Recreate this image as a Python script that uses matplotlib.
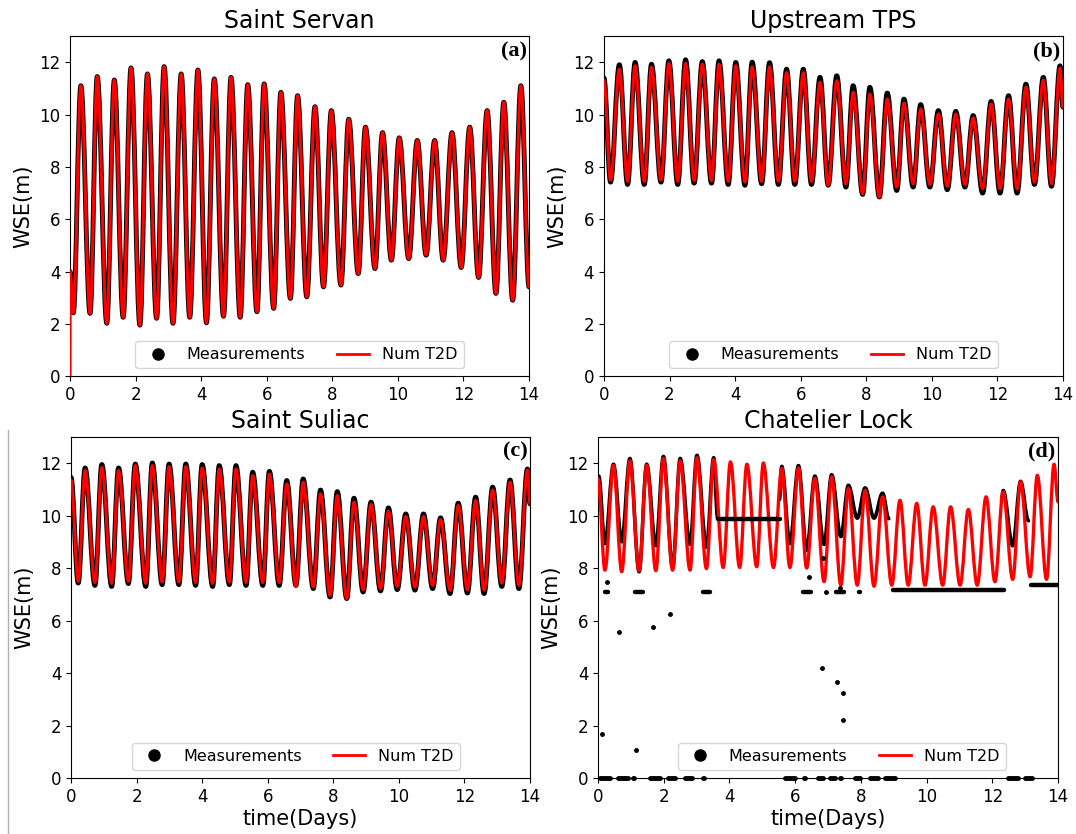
import matplotlib
matplotlib.use("Agg")
import matplotlib.pyplot as plt
from matplotlib.path import Path
from matplotlib.patches import PathPatch
from matplotlib.lines import Line2D

# ---- (a) Saint Servan : high / low water ----
a_hw_t = [0.33, 0.83, 1.35, 1.86, 2.36, 2.87, 3.39, 3.90, 4.40, 4.91, 5.42, 5.92, 6.43, 6.94,
          7.47, 7.97, 8.50, 9.01, 9.53, 10.04, 10.59, 11.12, 11.65, 12.19, 12.72, 13.23, 13.75]
a_hw = [11.10, 11.45, 11.32, 11.78, 11.55, 11.83, 11.55, 11.70, 11.36, 11.42, 11.14, 11.17, 10.85, 10.72,
        10.30, 10.15, 9.82, 9.52, 9.31, 9.11, 9.01, 9.01, 9.31, 9.52, 10.15, 10.47, 11.10]
a_lw_t = [0.10, 0.61, 1.12, 1.62, 2.13, 2.64, 3.14, 3.65, 4.16, 4.68, 5.19, 5.70, 6.21, 6.72,
          7.22, 7.73, 8.26, 8.79, 9.30, 9.80, 10.33, 10.86, 11.38, 11.93, 12.46, 12.99, 13.50]
a_lw = [2.43, 2.41, 2.03, 2.26, 1.96, 2.22, 2.03, 2.26, 2.05, 2.30, 2.26, 2.47, 2.60, 2.98,
        3.04, 3.42, 3.49, 3.93, 4.12, 4.44, 4.50, 4.63, 4.44, 4.16, 3.78, 3.17, 2.91]
a_start_obs = [(0.0, 4.0)]
a_start_mod = [(0.0, 0.0), (0.002, 4.0)]
a_end = (14.0, 3.42)

# ---- (b) Upstream TPS ----
b_hw_t = [0.47, 0.95, 1.45, 1.98, 2.49, 3.00, 3.51, 4.02, 4.52, 5.05, 5.57, 6.08, 6.59, 7.10,
          7.60, 8.11, 8.64, 9.15, 9.66, 10.20, 10.73, 11.26, 11.81, 12.34, 12.87, 13.40, 13.91]
b_hw_obs = [11.90, 11.99, 11.92, 12.05, 12.09, 12.02, 12.05, 11.99, 12.00, 11.98, 11.73, 11.73, 11.42, 11.48,
            11.10, 11.04, 10.82, 10.59, 10.38, 10.15, 10.12, 9.96, 10.50, 10.72, 11.16, 11.42, 11.86]
b_hw_mod = [11.73, 11.86, 11.80, 11.95, 11.95, 11.92, 11.92, 11.86, 11.82, 11.82, 11.60, 11.60, 11.23, 11.29,
            10.85, 10.78, 10.59, 10.43, 10.21, 10.02, 10.02, 9.87, 10.40, 10.59, 11.04, 11.31, 11.77]
b_lw_t = [0.20, 0.72, 1.23, 1.74, 2.25, 2.75, 3.28, 3.79, 4.30, 4.81, 5.32, 5.82, 6.33, 6.84,
          7.38, 7.89, 8.40, 8.93, 9.43, 9.94, 10.47, 11.01, 11.55, 12.08, 12.60, 13.13, 13.65]
b_lw_obs = [7.42, 7.33, 7.33, 7.42, 7.33, 7.38, 7.38, 7.33, 7.30, 7.36, 7.33, 7.33, 7.33, 7.30,
            7.23, 6.95, 6.85, 7.10, 7.23, 7.23, 7.13, 7.23, 7.00, 7.00, 7.00, 7.33, 7.26]
b_lw_mod = [7.50, 7.45, 7.45, 7.50, 7.45, 7.48, 7.48, 7.45, 7.42, 7.45, 7.45, 7.45, 7.45, 7.30,
            7.36, 6.98, 6.85, 7.23, 7.36, 7.33, 7.26, 7.33, 7.17, 7.17, 7.17, 7.42, 7.36]
b_start_obs = [(0.0, 11.40)]
b_start_mod = [(0.0, 11.30)]
b_end = (14.0, 10.28)

# ---- (c) Saint Suliac ----
c_hw_t = [0.43, 0.94, 1.45, 1.96, 2.48, 2.99, 3.50, 4.00, 4.52, 5.03, 5.54, 6.05, 6.58, 7.08,
          7.61, 8.12, 8.63, 9.15, 9.68, 10.21, 10.75, 11.27, 11.81, 12.34, 12.86, 13.39, 13.92]
c_hw_obs = [11.81, 11.94, 11.81, 11.96, 12.00, 11.96, 11.96, 11.94, 11.90, 11.90, 11.65, 11.68, 11.33, 11.39,
            10.97, 10.91, 10.66, 10.51, 10.29, 10.06, 10.06, 9.91, 10.47, 10.70, 11.08, 11.35, 11.77]
c_hw_mod = [11.71, 11.83, 11.71, 11.90, 11.90, 11.86, 11.86, 11.81, 11.77, 11.77, 11.52, 11.58, 11.20, 11.27,
            10.82, 10.76, 10.51, 10.42, 10.16, 9.96, 9.96, 9.84, 10.38, 10.57, 10.97, 11.27, 11.73]
c_lw_t = [0.22, 0.73, 1.24, 1.75, 2.28, 2.78, 3.29, 3.80, 4.32, 4.83, 5.34, 5.85, 6.35, 6.86,
          7.39, 7.90, 8.41, 8.91, 9.44, 9.95, 10.49, 11.03, 11.56, 12.09, 12.60, 13.14, 13.66]
c_lw_obs = [7.43, 7.34, 7.30, 7.41, 7.30, 7.37, 7.37, 7.34, 7.30, 7.37, 7.34, 7.34, 7.34, 7.34,
            7.22, 6.90, 6.84, 7.09, 7.13, 7.18, 7.16, 7.22, 7.03, 7.05, 7.03, 7.30, 7.22]
c_lw_mod = [7.50, 7.45, 7.42, 7.50, 7.42, 7.47, 7.47, 7.45, 7.42, 7.47, 7.45, 7.45, 7.45, 7.30,
            7.28, 6.96, 6.84, 7.18, 7.22, 7.30, 7.28, 7.34, 7.16, 7.18, 7.16, 7.43, 7.34]
c_start_obs = [(0.0, 11.45)]
c_start_mod = [(0.0, 11.35)]
c_end = (14.0, 10.44)

# ---- (d) Chatelier Lock : model ----
d_hw_t = [0.47, 0.97, 1.48, 1.99, 2.50, 3.01, 3.52, 4.03, 4.53, 5.03, 5.59, 6.10, 6.60, 7.11,
          7.62, 8.13, 8.66, 9.19, 9.70, 10.20, 10.73, 11.27, 11.81, 12.33, 12.86, 13.37, 13.88]
d_hw_mod = [11.91, 12.08, 11.91, 12.17, 12.08, 12.20, 12.13, 12.04, 11.95, 12.00, 11.79, 11.81, 11.41, 11.47,
            11.03, 10.96, 10.71, 10.58, 10.46, 10.33, 10.33, 10.23, 10.71, 10.90, 11.28, 11.53, 11.95]
d_lw_t = [0.21, 0.72, 1.25, 1.76, 2.27, 2.80, 3.30, 3.81, 4.31, 4.83, 5.34, 5.84, 6.35, 6.88,
          7.39, 7.89, 8.40, 8.94, 9.44, 9.95, 10.49, 11.02, 11.54, 12.08, 12.62, 13.15, 13.65]
d_lw_mod = [7.92, 7.86, 7.90, 7.90, 7.92, 7.92, 7.98, 8.02, 8.02, 8.05, 8.02, 8.02, 8.00, 7.48,
            7.35, 7.35, 7.31, 7.35, 7.35, 7.35, 7.35, 7.35, 7.35, 7.48, 7.57, 7.67, 7.57]
d_start_mod = [(0.0, 11.40)]
d_end = (14.0, 10.52)

# ---- (d) measurements: pieces that follow the tide ----
d_obs1_t = [0.02, 0.21, 0.47, 0.72, 0.97, 1.25, 1.48, 1.76, 1.99, 2.27, 2.50, 2.80, 3.01, 3.30, 3.52, 3.64]
d_obs1 = [11.50, 8.93, 11.95, 9.00, 12.17, 7.86, 11.95, 8.85, 12.25, 8.00, 12.17, 8.90, 12.29, 8.80, 12.20, 9.90]
d_obs2_t = [5.52, 5.59, 5.84, 6.10, 6.35, 6.60, 6.88, 7.11, 7.39, 7.62, 7.89, 8.13, 8.40, 8.66, 8.85]
d_obs2 = [10.60, 11.87, 8.93, 11.90, 8.68, 11.50, 8.90, 11.55, 9.20, 11.15, 9.90, 11.05, 9.90, 10.85, 9.88]
d_obs3_t = [12.28, 12.33, 12.62, 12.86, 13.10]
d_obs3 = [10.60, 10.95, 8.85, 11.30, 9.80]
# constant stretches of the gauge (start, end, level)
d_flat_t0 = [3.65, 8.98, 13.19, 0.22, 1.13, 3.20, 6.25, 7.24, 7.95]
d_flat_t1 = [5.54, 12.36, 14.00, 0.30, 1.37, 3.41, 6.48, 7.49, 7.97]
d_flat_v = [9.88, 7.16, 7.37, 7.10, 7.10, 7.10, 7.10, 7.10, 7.10]
# gauge dropouts at zero
d_zero_t0 = [0.06, 0.61, 1.07, 1.58, 2.13, 2.65, 3.20, 5.69, 6.27, 6.70, 7.06, 7.36, 7.82, 8.28, 8.73, 12.48, 13.00]
d_zero_t1 = [0.37, 0.91, 1.09, 1.89, 2.34, 2.86, 3.22, 6.00, 6.29, 6.85, 7.21, 7.38, 7.97, 8.52, 9.04, 12.78, 13.20]
# isolated spikes
d_pts_t = [0.12, 0.28, 0.64, 1.16, 1.67, 2.19, 6.43, 6.82, 6.86, 6.94, 7.27, 7.36, 7.46, 7.46]
d_pts_v = [1.68, 7.48, 5.57, 1.08, 5.75, 6.24, 7.67, 4.19, 8.40, 7.10, 3.66, 7.26, 3.24, 2.21]


def merge(start, hw_t, hw, lw_t, lw, end):
    pts = list(start) + list(zip(hw_t, hw)) + list(zip(lw_t, lw)) + [end]
    pts.sort(key=lambda p: p[0])
    return [p[0] for p in pts], [p[1] for p in pts]


def tide_curve(ax, tt, vv, color, lw, z, k=0.36):
    # smooth cubic segments between turning points, horizontal tangent at each one
    verts = [(tt[0], vv[0])]
    codes = [Path.MOVETO]
    for i in range(1, len(tt)):
        d = tt[i] - tt[i - 1]
        verts += [(tt[i - 1] + k * d, vv[i - 1]), (tt[i] - k * d, vv[i]), (tt[i], vv[i])]
        codes += [Path.CURVE4] * 3
    ax.add_patch(PathPatch(Path(verts, codes), fill=False, edgecolor=color, lw=lw,
                           zorder=z, capstyle='round', joinstyle='round'))


fig = plt.figure(figsize=(10.76, 8.34), dpi=100)
axes = [fig.add_axes([0.0651, 0.5486, 0.4266, 0.4083]),
        fig.add_axes([0.5613, 0.5486, 0.4266, 0.4083]),
        fig.add_axes([0.0660, 0.0668, 0.4266, 0.4096]),
        fig.add_axes([0.5558, 0.0668, 0.4275, 0.4096])]
titles = ['Saint Servan', 'Upstream TPS', 'Saint Suliac', 'Chatelier Lock']
tags = ['(a)', '(b)', '(c)', '(d)']

panels = [
    (merge(a_start_obs, a_hw_t, a_hw, a_lw_t, a_lw, a_end), merge(a_start_mod, a_hw_t, a_hw, a_lw_t, a_lw, a_end)),
    (merge(b_start_obs, b_hw_t, b_hw_obs, b_lw_t, b_lw_obs, b_end), merge(b_start_mod, b_hw_t, b_hw_mod, b_lw_t, b_lw_mod, b_end)),
    (merge(c_start_obs, c_hw_t, c_hw_obs, c_lw_t, c_lw_obs, c_end), merge(c_start_mod, c_hw_t, c_hw_mod, c_lw_t, c_lw_mod, c_end)),
]

for i, ax in enumerate(axes):
    if i < 3:
        (ot, ov), (mt, mv) = panels[i]
        tide_curve(ax, ot, ov, 'black', 3.5, 2)
        tide_curve(ax, mt, mv, 'red', 2.2, 3)
    else:
        mt, mv = merge(d_start_mod, d_hw_t, d_hw_mod, d_lw_t, d_lw_mod, d_end)
        for st, sv in [(d_obs1_t, d_obs1), (d_obs2_t, d_obs2), (d_obs3_t, d_obs3)]:
            tide_curve(ax, st, sv, 'black', 2.6, 2)
        tide_curve(ax, mt, mv, 'red', 2.4, 3)
        ax.hlines(d_flat_v, d_flat_t0, d_flat_t1, colors='black', lw=3.2, zorder=4, capstyle='round')
        ax.hlines([0.0] * len(d_zero_t0), d_zero_t0, d_zero_t1, colors='black', lw=3.5,
                  zorder=4, capstyle='round', clip_on=False)
        ax.plot(d_pts_t, d_pts_v, 'o', color='black', ms=2.5, zorder=4)

    ax.set_xlim(0, 14)
    ax.set_ylim(0, 13)
    ax.set_xticks(range(0, 15, 2))
    ax.set_yticks(range(0, 13, 2))
    ax.tick_params(labelsize=12)
    ax.set_title(titles[i], fontsize=17)
    ax.set_ylabel('WSE(m)', fontsize=15)
    if i >= 2:
        ax.set_xlabel('time(Days)', fontsize=15, labelpad=2)
    ax.text(0.995, 0.985, tags[i], transform=ax.transAxes, ha='right', va='top',
            fontsize=16, fontweight='bold', family='Liberation Serif')
    handles = [Line2D([], [], marker='o', ls='none', color='black', ms=8),
               Line2D([], [], color='red', lw=2)]
    anchor = {2: (0.49, 0.0), 3: (0.53, 0.0)}.get(i, (0.5, 0.0))
    ax.legend(handles, ['Measurements', 'Num T2D'], loc='lower center', bbox_to_anchor=anchor,
              ncol=2, fontsize=11.5, columnspacing=2.0)

fig.add_artist(Line2D([0.0075, 0.0075], [0.0, 0.485], color='#b0b0b0', lw=1))
fig.savefig('out.png', dpi=100)
